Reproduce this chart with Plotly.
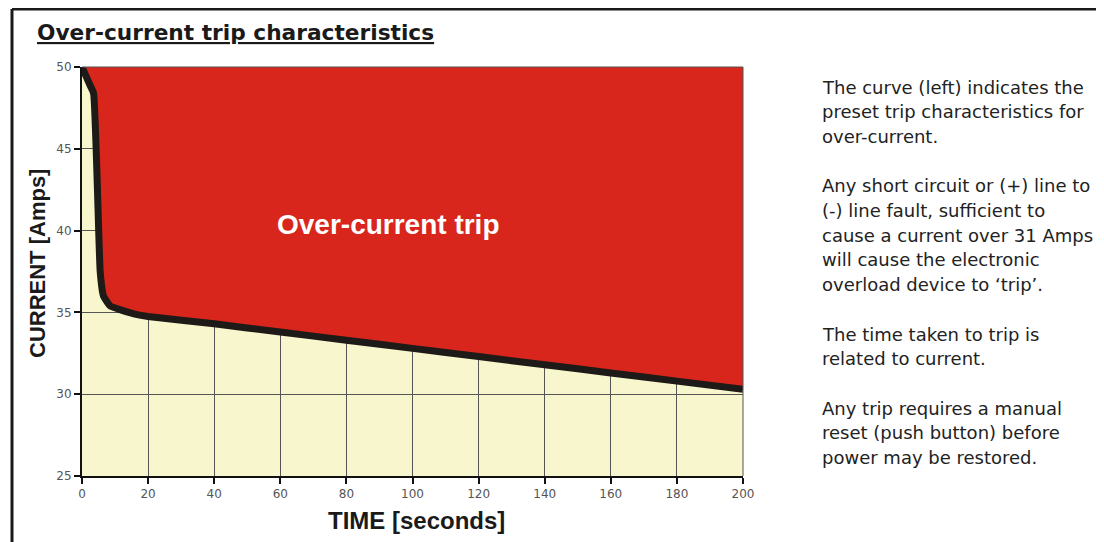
import plotly.graph_objects as go

# Trip curve
time_s = [0, 2.4, 3.5, 5.5, 6.5, 8.5, 11, 16, 20, 40, 60, 80, 100, 120, 140, 160, 180, 200]
current_a = [50, 48.9, 48.4, 37.5, 36.0, 35.4, 35.2, 34.9, 34.75, 34.3, 33.8, 33.3, 32.8, 32.3, 31.8, 31.3, 30.8, 30.3]

x_ticks = [0, 20, 40, 60, 80, 100, 120, 140, 160, 180, 200]
y_ticks = [25, 30, 35, 40, 45, 50]

title_text = "Over-current trip characteristics"
region_label = "Over-current trip"
x_title = "TIME [seconds]"
y_title = "CURRENT [Amps]"
side_text = [
    "The curve (left) indicates the",
    "preset trip characteristics for",
    "over-current.",
    "",
    "Any short circuit or (+) line to",
    "(-) line fault, sufficient to",
    "cause a current over 31 Amps",
    "will cause the electronic",
    "overload device to \u2018trip\u2019.",
    "",
    "The time taken to trip is",
    "related to current.",
    "",
    "Any trip requires a manual",
    "reset (push button) before",
    "power may be restored.",
]

OFF = 8  # browser body margin
PAGE_W, PAGE_H = 1104, 542
W, H = PAGE_W - OFF, PAGE_H - OFF
# plot area in page pixels: x 82..743, y 67..476
L = 82 - OFF
T = 67 - OFF
R = PAGE_W - 743
B = PAGE_H - 476
pw, ph = W - L - R, H - T - B

def px(xpage):
    return (xpage - OFF - L) / pw

def py(ypage):
    return (H - B - (ypage - OFF)) / ph

fig = go.Figure()

# red trip region above the curve
fig.add_trace(go.Scatter(
    x=time_s + [time_s[-1], time_s[0]],
    y=current_a + [y_ticks[-1], y_ticks[-1]],
    fill="toself", fillcolor="#D9261C",
    line=dict(width=0, color="#D9261C"),
    mode="lines", hoverinfo="skip", showlegend=False,
))
# curve
fig.add_trace(go.Scatter(
    x=time_s, y=current_a, mode="lines",
    line=dict(color="#1E1A17", width=7, shape="spline", smoothing=0.4),
    showlegend=False,
))

fig.add_annotation(
    x=px(388), y=py(224), xref="paper", yref="paper", text="<b>" + region_label + "</b>",
    showarrow=False, font=dict(family="Liberation Sans, Arial", size=28, color="white"),
)

fig.add_annotation(
    x=px(35), y=py(33), xref="paper", yref="paper", xanchor="left", yanchor="middle",
    text="<b><u>" + title_text + "</u></b>", showarrow=False,
    font=dict(family="DejaVu Sans, Verdana", size=21.7, color="#1a1a1a"),
)

LINE_STEP = 24.7
for i, line in enumerate(side_text):
    if not line:
        continue
    fig.add_annotation(
        x=px(820), y=py(87 + i * LINE_STEP), xref="paper", yref="paper",
        xanchor="left", yanchor="middle", align="left", text=line, showarrow=False,
        font=dict(family="DejaVu Sans, Verdana", size=18, color="#222222"),
    )

fig.add_annotation(
    x=px(417), y=py(520), xref="paper", yref="paper", xanchor="center", yanchor="middle",
    text="<b>" + x_title + "</b>", showarrow=False,
    font=dict(family="Liberation Sans, Arial", size=24, color="#1a1a1a"),
)
fig.add_annotation(
    x=px(37), y=py(264), xref="paper", yref="paper", xanchor="center", yanchor="middle",
    text="<b>" + y_title + "</b>", showarrow=False, textangle=-90,
    font=dict(family="Liberation Sans, Arial", size=22, color="#1a1a1a"),
)

# frame lines
fig.add_shape(type="line", xref="paper", yref="paper", x0=px(12), x1=px(1110), y0=py(9), y1=py(9),
              line=dict(color="#1a1a1a", width=3))
fig.add_shape(type="line", xref="paper", yref="paper", x0=px(12), x1=px(12), y0=py(9), y1=py(550),
              line=dict(color="#1a1a1a", width=3))

fig.update_xaxes(
    range=[0, 200], tickvals=x_ticks, ticks="outside", ticklen=6, tickwidth=2, tickcolor="#111",
    showline=True, linecolor="#111", linewidth=2, mirror=False,
    showgrid=True, gridcolor="#555", gridwidth=1, zeroline=False,
    tickfont=dict(family="DejaVu Sans", size=12, color="#555"),
)
fig.update_yaxes(
    range=[25, 50], tickvals=y_ticks, ticks="outside", ticklen=6, tickwidth=2, tickcolor="#111",
    showline=True, linecolor="#111", linewidth=2,
    showgrid=True, gridcolor="#555", gridwidth=1, zeroline=False,
    tickfont=dict(family="DejaVu Sans", size=12, color="#555"),
)

# thin top/right edges
fig.add_shape(type="line", xref="paper", yref="paper", x0=0, x1=1, y0=1, y1=1, line=dict(color="#555", width=1))
fig.add_shape(type="line", xref="paper", yref="paper", x0=1, x1=1, y0=0, y1=1, line=dict(color="#555", width=1))

fig.update_layout(
    width=W, height=H, margin=dict(l=L, r=R, t=T, b=B, autoexpand=False),
    paper_bgcolor="white", plot_bgcolor="#F8F6CC",
)

fig.write_html("out.html")
